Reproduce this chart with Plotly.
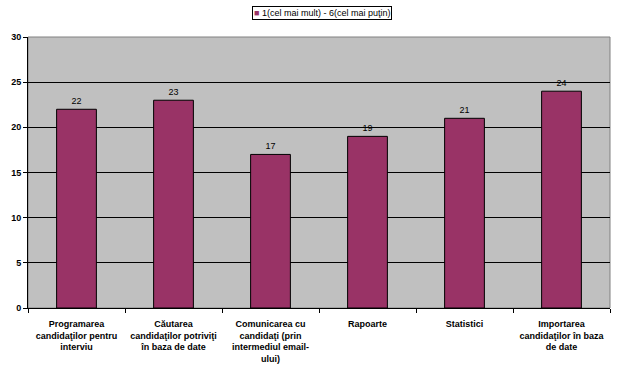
import plotly.graph_objects as go

categories = [
    "Programarea<br>candidaţilor pentru<br>interviu",
    "Căutarea<br>candidaţilor potriviţi<br>în baza de date",
    "Comunicarea cu<br>candidaţi (prin<br>intermediul email-<br>ului)",
    "Rapoarte",
    "Statistici",
    "Importarea<br>candidaţilor în baza<br>de date",
]
values = [22, 23, 17, 19, 21, 24]
series_name = "1(cel mai mult) - 6(cel mai puţin)"
y_ticks = [0, 5, 10, 15, 20, 25, 30]

FONT = "Liberation Sans, Arial"
BAR_COLOR = "#993366"

fig = go.Figure()
fig.add_trace(go.Bar(
    x=categories, y=values, name=series_name,
    marker=dict(color=BAR_COLOR, line=dict(color="black", width=1)),
    text=[str(v) for v in values], textposition="outside",
    textfont=dict(family=FONT, size=9, color="black"),
    cliponaxis=False,
))
fig.update_layout(
    width=623, height=383,
    margin=dict(l=28, r=13, t=37, b=75, autoexpand=False),
    paper_bgcolor="white", plot_bgcolor="#C0C0C0",
    bargap=0.59,
    showlegend=False,
    font=dict(family=FONT, size=9, color="black"),
)
# legend box
fig.add_annotation(
    xref="paper", yref="paper", x=0.506, y=1.0 + (37 - 12.5) / 271, xanchor="center", yanchor="middle",
    text=f"<span style='color:{BAR_COLOR}'>■</span> {series_name}",
    showarrow=False, bordercolor="black", borderwidth=1, borderpad=1, bgcolor="white",
    font=dict(family=FONT, size=9, color="black"),
)
fig.update_xaxes(
    automargin=False,
    tickson="boundaries", ticks="outside", ticklen=4, tickcolor="black",
    showline=True, linecolor="black", linewidth=1, mirror=False,
    tickfont=dict(family=FONT, size=9, color="black", weight="bold"),
    tickangle=0, ticklabelstandoff=7,
)
fig.update_yaxes(
    automargin=False,
    range=[0, 30], tickvals=y_ticks, ticks="outside", ticklen=4, tickcolor="black",
    showline=True, linecolor="black", linewidth=1,
    showgrid=True, gridcolor="black", gridwidth=1,
    tickfont=dict(family=FONT, size=9, color="black", weight="bold"),
    zeroline=False,
)
fig.add_shape(type="rect", xref="paper", yref="paper", x0=0, y0=0, x1=1, y1=1,
              line=dict(color="#808080", width=1), layer="below")
fig.write_html("out.html", config={"displayModeBar": False},
               post_script="document.body.style.margin='0';document.body.style.overflow='hidden';")
